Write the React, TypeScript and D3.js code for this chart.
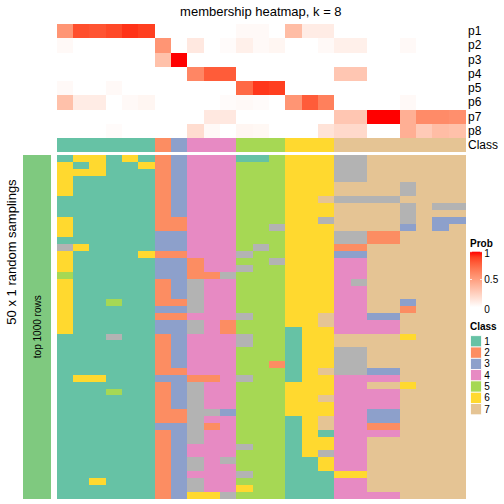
import React from "react";
import * as d3 from "d3";

// ---------- data ----------
const probRows = ["p1", "p2", "p3", "p4", "p5", "p6", "p7", "p8"];
const p1 = [0.55, 0.85, 0.83, 0.87, 0.93, 0.9, 0, 0, 0, 0, 0, 0.03, 0.03, 0, 0.35, 0.1, 0.1, 0, 0, 0, 0, 0, 0, 0, 0];
const p2 = [0.03, 0, 0, 0, 0, 0, 0.55, 0, 0.12, 0, 0.02, 0.08, 0.03, 0.05, 0, 0, 0.03, 0.08, 0.08, 0, 0, 0.03, 0, 0, 0];
const p3 = [0, 0, 0, 0, 0, 0, 0.33, 1.0, 0, 0, 0, 0, 0, 0, 0, 0, 0, 0, 0, 0, 0, 0, 0, 0, 0];
const p4 = [0, 0, 0, 0, 0, 0, 0, 0, 0.62, 0.8, 0.8, 0, 0, 0, 0, 0, 0, 0.3, 0.3, 0, 0, 0, 0, 0, 0];
const p5 = [0.03, 0, 0, 0.03, 0, 0, 0, 0, 0, 0, 0, 0.75, 0.92, 0.9, 0, 0, 0, 0, 0, 0, 0, 0, 0, 0, 0];
const p6 = [0.33, 0.1, 0.1, 0, 0.03, 0.05, 0, 0, 0, 0, 0.02, 0.03, 0.02, 0, 0.55, 0.8, 0.65, 0, 0, 0, 0, 0.03, 0, 0, 0];
const p7 = [0, 0, 0, 0, 0, 0, 0, 0, 0, 0.12, 0.12, 0, 0, 0, 0, 0, 0, 0.3, 0.3, 1.0, 1.0, 0.42, 0.6, 0.6, 0.58];
const p8 = [0, 0, 0, 0.02, 0, 0, 0, 0, 0.18, 0.03, 0, 0.05, 0.04, 0, 0, 0, 0.15, 0.2, 0.2, 0, 0, 0.42, 0.28, 0.35, 0.33];
const probValues = [p1, p2, p3, p4, p5, p6, p7, p8];

// final class for each of the 25 columns
const classRow = [1, 1, 1, 1, 1, 1, 2, 3, 4, 4, 4, 5, 5, 5, 6, 6, 6, 7, 7, 7, 7, 7, 7, 7, 7];

// 50 random samplings (8 = class not in legend, grey)
const samplings = [
  "1661612344411566688777777",
  "6161162344455566688777777",
  "6661112344455566688777777",
  "6111112344455566688777777",
  "6111112344455566677778777",
  "6111112344455566677778777",
  "1111112344455566788887777",
  "1111112344455566677778788",
  "1111112344455566677778777",
  "6111112244455566877778733",
  "6111112244455866677773737",
  "6111113344455566688227777",
  "1111113344455566688227777",
  "8611113344458566622777777",
  "6111162244485566633777777",
  "6111113324455866644777777",
  "6111113324485566644777777",
  "5111113322855566644777777",
  "6111112384455566648777777",
  "6111112384455566644777777",
  "6111112384455566644777777",
  "6115112284455566644773777",
  "6111113384455566644772777",
  "6111112244485566744337777",
  "6111113384255566744447777",
  "6111113384255516644447777",
  "1118112344485516677776777",
  "1111112344485516677777777",
  "1111112344455516688777777",
  "1111112344455516688777777",
  "1111112344455216688777777",
  "1111112244455516788337777",
  "1661113322485516644447777",
  "1111112384455566644776777",
  "1115112384455566644447777",
  "1111112384455566744447777",
  "1111112384455566644447777",
  "1111112288355566644337777",
  "1111112284455516744337777",
  "1111113382455516744227777",
  "1111112384455516144447777",
  "1111112384455516644777777",
  "1111112344485516644777777",
  "1111112344455516844777777",
  "1111112384855511644777777",
  "1111112384455511644777777",
  "1111112344485511166777777",
  "1161112384455511144777777",
  "1111112384465511144777777",
  "1111112366855511144447777",
];

const classLabels = ["1", "2", "3", "4", "5", "6", "7"];
const classColors = ["#66C2A5", "#FC8D62", "#8DA0CB", "#E78AC3", "#A6D854", "#FFD92F", "#E5C494", "#B3B3B3"];
const probTicks = [0, 0.5, 1];

const FONT = "'Liberation Sans', Arial, Helvetica, sans-serif";

export default function App() {
  const nCol = classRow.length;
  const cols = d3.range(nCol);
  const x = d3.scaleBand<number>().domain(cols).range([56.7, 465]).padding(0);
  const yTop = d3.scaleBand<string>().domain([...probRows, "Class"]).range([24, 152.3]).padding(0);
  const rowIdx = d3.range(samplings.length);
  const yBot = d3.scaleBand<number>().domain(rowIdx).range([155, 498.5]).padding(0);
  const probColor = d3.scaleLinear<string>().domain([0, 1]).range(["#ffffff", "#ff0000"]).interpolate(d3.interpolateLab).clamp(true);
  const classColor = d3.scaleOrdinal<number, string>().domain(d3.range(1, 9)).range(classColors);

  const legY = d3.scaleLinear().domain([0, 1]).range([307.3, 251.7]);
  const legBox = d3.scaleBand<string>().domain(classLabels).range([335.7, 414.8]).padding(0);

  const gradStops = d3.range(0, 1.0001, 0.1);

  return (
    <svg width={504} height={504} style={{ position: "absolute", left: 0, top: 0, fontFamily: FONT }}>
      <rect x={0} y={0} width={504} height={504} fill="#fff" />
      <defs>
        <linearGradient id="probGrad" x1="0" y1="1" x2="0" y2="0">
          {gradStops.map((s) => (
            <stop key={s} offset={s} stopColor={probColor(s)} />
          ))}
        </linearGradient>
      </defs>

      {/* title */}
      <text x={(x.range()[0] + x.range()[1]) / 2} y={16} textAnchor="middle" fontSize={13} fill="#000">
        membership heatmap, k = 8
      </text>

      <g shapeRendering="crispEdges">
        {/* probability heatmap */}
        {probValues.map((vals, r) =>
          vals.map((v, c) => (
            <rect
              key={`p${r}-${c}`}
              x={x(c)}
              y={yTop(probRows[r])}
              width={x.bandwidth() + 0.5}
              height={yTop.bandwidth() + 0.5}
              fill={probColor(v)}
            />
          ))
        )}
        {/* class annotation */}
        {classRow.map((k, c) => (
          <rect key={`c${c}`} x={x(c)} y={yTop("Class")} width={x.bandwidth() + 0.5} height={yTop.bandwidth()} fill={classColor(k)} />
        ))}

        {/* sampling heatmap */}
        {samplings.map((row, r) =>
          row.split("").map((ch, c) => (
            <rect
              key={`s${r}-${c}`}
              x={x(c)}
              y={yBot(r)}
              width={x.bandwidth() + 0.5}
              height={yBot.bandwidth() + 0.5}
              fill={classColor(+ch)}
            />
          ))
        )}

        {/* left annotation */}
        <rect x={22.7} y={yBot.range()[0]} width={28.3} height={yBot.range()[1] - yBot.range()[0]} fill="#7FC97F" />
      </g>

      {[...probRows, "Class"].map((lab) => (
        <text key={lab} x={468} y={(yTop(lab) as number) + yTop.bandwidth() / 2} dominantBaseline="central" fontSize={12} fill="#000">
          {lab}
        </text>
      ))}

      <text
        transform={`translate(37, ${(yBot.range()[0] + yBot.range()[1]) / 2}) rotate(-90)`}
        textAnchor="middle"
        dominantBaseline="central"
        fontSize={10}
        fill="#000"
      >
        top 1000 rows
      </text>
      <text transform={`translate(11, 252) rotate(-90)`} textAnchor="middle" dominantBaseline="central" fontSize={13} fill="#000">
        50 x 1 random samplings
      </text>

      {/* Prob legend */}
      <text x={470} y={246.5} fontSize={10} fontWeight="bold" fill="#000">
        Prob
      </text>
      <rect x={470} y={legY(1)} width={12} height={legY(0) - legY(1)} fill="url(#probGrad)" />
      {probTicks.map((t) => (
        <g key={`t${t}`}>
          <line x1={470} x2={472} y1={legY(t)} y2={legY(t)} stroke="#fff" strokeWidth={0.8} />
          <line x1={480} x2={482} y1={legY(t)} y2={legY(t)} stroke="#fff" strokeWidth={0.8} />
          <text x={484.3} y={legY(t) + (t === 1 ? 1.5 : t === 0 ? 2 : 0)} dominantBaseline="central" fontSize={10} fill="#000">
            {String(t)}
          </text>
        </g>
      ))}

      {/* Class legend */}
      <text x={470} y={330} fontSize={10} fontWeight="bold" fill="#000">
        Class
      </text>
      {classLabels.map((lab, i) => (
        <g key={`l${lab}`}>
          <rect
            x={470.5}
            y={legBox(lab)}
            width={11}
            height={legBox.bandwidth()}
            fill={classColors[i]}
            stroke="#fff"
            strokeWidth={0.8}
          />
          <text x={484.3} y={(legBox(lab) as number) + legBox.bandwidth() / 2} dominantBaseline="central" fontSize={10} fill="#000">
            {lab}
          </text>
        </g>
      ))}
    </svg>
  );
}
